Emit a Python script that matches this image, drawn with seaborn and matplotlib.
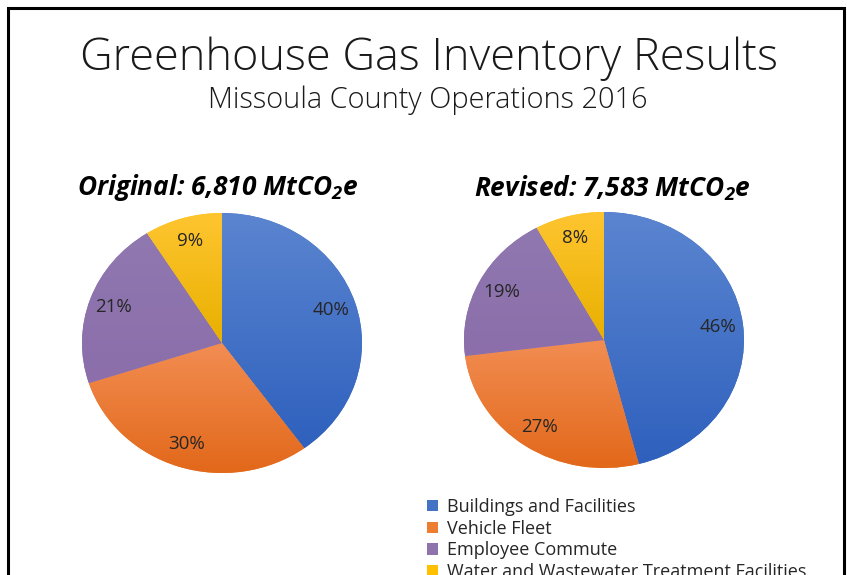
import numpy as np
import matplotlib
matplotlib.use("Agg")
import matplotlib.pyplot as plt
import seaborn as sns
from matplotlib.colors import LinearSegmentedColormap
from matplotlib.patches import Rectangle, Patch

sns.set_theme(style="white")
plt.rcParams['font.family'] = ['Open Sans', 'DejaVu Sans']
plt.rcParams['mathtext.fontset'] = 'custom'
plt.rcParams['mathtext.rm'] = 'Open Sans:bold:italic'
plt.rcParams['mathtext.it'] = 'Open Sans:bold:italic'
plt.rcParams['mathtext.bf'] = 'Open Sans:bold:italic'

categories = ["Buildings and Facilities", "Vehicle Fleet", "Employee Commute",
              "Water and Wastewater Treatment Facilities"]
original_pct = [40, 30, 21, 9]
revised_pct = [46, 27, 19, 8]
titles = ["Original: 6,810 MtCO$_{2}$e", "Revised: 7,583 MtCO$_{2}$e"]
main_title = "Greenhouse Gas Inventory Results"
subtitle = "Missoula County Operations 2016"

base_colors = ["#4472C4", "#ED7D31", "#8E73AD", "#FFC000"]
grad_light = ["#5B85D0", "#F28D52", "#9078B0", "#FFC530"]
grad_dark = ["#2E60BD", "#E2681A", "#8B6EAA", "#E8B000"]

W, H = 847, 575
fig = plt.figure(figsize=(W / 100, H / 100), dpi=100)
fig.patch.set_facecolor("white")

# frame
fig.add_artist(Rectangle((8 / W, -0.1), (844 - 8) / W, (H - 8) / H + 0.1,
                         transform=fig.transFigure, fill=False,
                         edgecolor="black", linewidth=2.2))

fig.text(429 / W, 1 - 59 / H, main_title, ha="center", va="center",
         fontsize=32.5, fontweight="light", color="#1a1a1a")
fig.text(428 / W, 1 - 100 / H, subtitle, ha="center", va="center",
         fontsize=20.8, fontweight="light", color="#1a1a1a")


def draw_pie(rect, values, title, title_xy):
    ax = fig.add_axes(rect)
    wedges, texts, autotexts = ax.pie(
        values, colors=base_colors, startangle=90, counterclock=False,
        autopct=lambda p: f"{p:.0f}%", pctdistance=0.82,
        textprops=dict(fontsize=13.5, color="#262626"),
        wedgeprops=dict(linewidth=0))
    ax.set_aspect("auto")
    ax.set_xlim(-1, 1)
    ax.set_ylim(-1, 1)
    for i, w in enumerate(wedges):
        ext = w.get_path().get_extents()
        cmap = LinearSegmentedColormap.from_list("g", [grad_dark[i], grad_light[i]])
        grad = np.linspace(0, 1, 256).reshape(-1, 1)
        im = ax.imshow(grad, extent=(ext.x0, ext.x1, ext.y0, ext.y1),
                       origin="lower", aspect="auto", cmap=cmap, zorder=1.5)
        im.set_clip_path(w)
    for t in autotexts:
        t.set_zorder(3)
    ax.set_xlim(-1, 1)
    ax.set_ylim(-1, 1)
    ax.axis("off")
    fig.text(title_xy[0] / W, 1 - title_xy[1] / H, title, ha="center", va="center",
             fontsize=18.9, fontweight="bold", fontstyle="italic", color="black")
    return ax


draw_pie([82 / W, 102 / H, 280 / W, 260 / H], original_pct, titles[0], (218, 188))
draw_pie([464 / W, 107 / H, 280 / W, 256 / H], revised_pct, titles[1], (612, 188))

handles = [Patch(facecolor=c, edgecolor="none") for c in base_colors]
fig.legend(handles, categories, loc="upper left",
           bbox_to_anchor=(418 / W, 1 - 489 / H), frameon=False,
           fontsize=13, handlelength=0.6, handleheight=0.6, handletextpad=0.5,
           labelspacing=0.2, borderpad=0, labelcolor="#262626")

fig.savefig("out.png", dpi=100, facecolor="white")
